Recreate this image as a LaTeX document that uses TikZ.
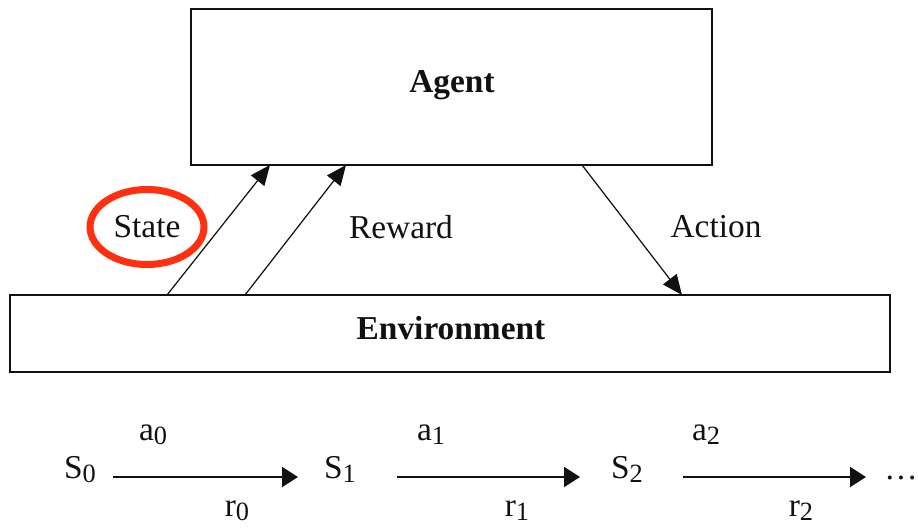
\documentclass[tikz,border=0pt]{standalone}
\usepackage{fontspec}
\setmainfont{Liberation Serif}
\usetikzlibrary{arrows.meta,positioning,shapes.geometric}
\definecolor{rlInk}{HTML}{111111}
\definecolor{rlRed}{HTML}{FF3010}
\newcommand{\rlidx}[2]{#1\raisebox{-0.32ex}{\fontsize{15}{15}\selectfont #2}}
\tikzset{
  every picture/.style={font=\fontsize{19}{22}\selectfont, text=rlInk},
  rl box/.style={draw=rlInk, line width=1.1pt, fill=white, inner sep=0pt,
    font=\fontsize{19}{22}\selectfont\bfseries},
  rl arrow/.style={-{Triangle[length=4mm,width=3.4mm]},
    draw=rlInk, line width=0.7pt},
  rl step/.style={-{Triangle[length=3.2mm,width=4mm]},
    draw=rlInk, line width=1.1pt},
  rl mark/.style={ellipse, draw=rlRed, line width=4pt,
    minimum width=2.28cm, minimum height=1.5cm, inner sep=0pt},
  rl label/.style={anchor=base, inner sep=0pt}
}
\begin{document}
\begin{tikzpicture}[x=0.02cm,y=-0.02cm]
  \useasboundingbox (0,0) rectangle (918,527);
  % agent and environment
  \node[rl box, minimum width=10.42cm, minimum height=3.12cm] (agent) at (451.5,87) {};
  \node at (452,85) (agenttext) {\bfseries Agent};
  \node[rl box, minimum width=17.6cm, minimum height=1.54cm] (env) at (450,333.5) {};
  \node at (451,328) (envtext) {\bfseries Environment};
  % feet and heads of the loop arrows
  \coordinate (statefoot) at (167,295);
  \coordinate (statehead) at (270,165);
  \coordinate (rewardfoot) at (245,295);
  \coordinate (rewardhead) at (346,165);
  \coordinate (actionfoot) at (582,165);
  \coordinate (actionhead) at (682,295);
  \draw[rl arrow] (statefoot) -- (statehead);
  \draw[rl arrow] (rewardfoot) -- (rewardhead);
  \draw[rl arrow] (actionfoot) -- (actionhead);
  \node[rl mark] (state) at (147,227) {State};
  \node (reward) at (401,227) {Reward};
  \node (action) at (716,227) {Action};
  % trajectory
  \node[rl label] (s0) at (80,478) {\rlidx{S}{0}};
  \node[rl label] (s1) at (340,478) {\rlidx{S}{1}};
  \node[rl label] (s2) at (627,478) {\rlidx{S}{2}};
  \node[rl label, anchor=base east] (more) at (918,479) {…};
  \coordinate (st0a) at (113,477);
  \coordinate (st0b) at (298,477);
  \coordinate (st1a) at (397,477);
  \coordinate (st1b) at (580,477);
  \coordinate (st2a) at (683,477);
  \coordinate (st2b) at (866,477);
  \draw[rl step] (st0a) -- (st0b);
  \draw[rl step] (st1a) -- (st1b);
  \draw[rl step] (st2a) -- (st2b);
  \node[rl label] (a0) at (153,440) {\rlidx{a}{0}};
  \node[rl label] (a1) at (431,440) {\rlidx{a}{1}};
  \node[rl label] (a2) at (706,440) {\rlidx{a}{2}};
  \node[rl label] (r0) at (237,516) {\rlidx{r}{0}};
  \node[rl label] (r1) at (517,516) {\rlidx{r}{1}};
  \node[rl label] (r2) at (801,516) {\rlidx{r}{2}};
\end{tikzpicture}
\end{document}
